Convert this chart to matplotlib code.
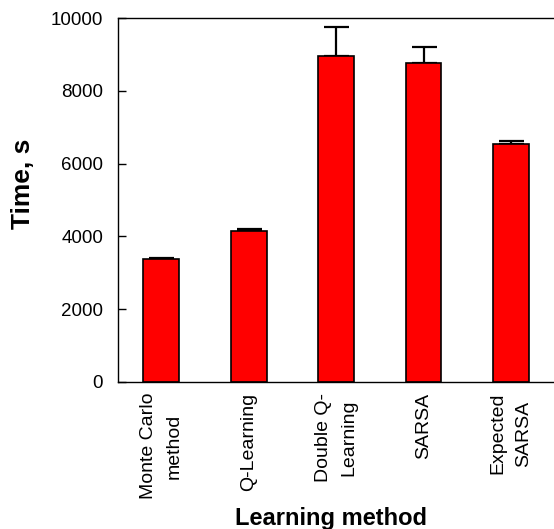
import matplotlib
matplotlib.use("Agg")
import matplotlib.pyplot as plt
import numpy as np

categories = ["Monte Carlo\nmethod", "Q-Learning", "Double Q-\nLearning", "SARSA", "Expected\nSARSA"]
times = [3370, 4155, 8950, 8760, 6540]
errors = [45, 55, 800, 445, 80]
yticks = [0, 2000, 4000, 6000, 8000, 10000]

plt.rcParams['font.family'] = ['Liberation Sans', 'DejaVu Sans']

fig = plt.figure(figsize=(5.54, 5.29), dpi=100)
W, H = 554, 529
ax = fig.add_axes([118.3 / W, 1 - 381.7 / H, (560 - 118.3) / W, (381.7 - 18.3) / H])

x = np.arange(len(categories))
ax.bar(x, times, width=0.41, color='#ff0000', edgecolor='black', linewidth=1.2, zorder=2)
ax.errorbar(x, times, yerr=[np.zeros(len(errors)), errors], fmt='none', ecolor='black',
            elinewidth=1.6, capsize=9, capthick=1.6, zorder=1)

ax.set_ylim(0, 10000)
ax.set_xlim(-0.49, 4.56)
ax.set_yticks(yticks)
ax.set_yticklabels([str(v) for v in yticks], fontsize=13.5)
ax.tick_params(axis='y', direction='in', length=6, width=1, pad=11)
ax.set_xticks(x)
ax.set_xticklabels(categories, rotation=90, fontsize=14, ha='center', va='top',
                   multialignment='center', linespacing=1.65)
ax.tick_params(axis='x', length=0, pad=8)

for s in ax.spines.values():
    s.set_linewidth(1.0)
ax.spines['right'].set_visible(False)

ax.set_ylabel("Time, s", fontsize=19, fontweight='bold')
ax.yaxis.set_label_coords(-83 / 441.7, (381.7 - 184) / 363.4)
ax.set_xlabel("Learning method", fontsize=17, fontweight='bold')
ax.xaxis.set_label_coords((331 - 118.3) / 441.7, -(518 - 381.7) / 363.4)
ax.xaxis.label.set_va('center')

fig.savefig("out.png", dpi=100)
